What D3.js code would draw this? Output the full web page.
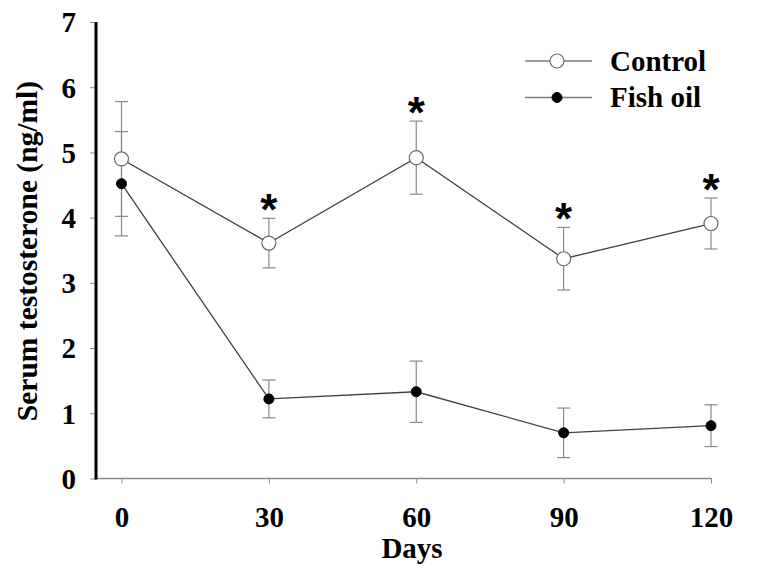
<!DOCTYPE html>
<html>
<head>
<meta charset="utf-8">
<script src="https://cdn.jsdelivr.net/npm/d3@7"></script>
<style>
  html, body { margin: 0; padding: 0; background: #fff; }
  svg { display: block; }
  text { font-family: "Liberation Serif", "Times New Roman", serif; font-weight: bold; fill: #000; }
</style>
</head>
<body>
<svg id="chart" width="771" height="575"></svg>
<script>
// ---- data ----
const days = [0, 30, 60, 90, 120];
const controlMean = [4.90, 3.61, 4.92, 3.37, 3.91];
const controlErr  = [0.88, 0.38, 0.56, 0.48, 0.39];
const fishMean    = [4.52, 1.22, 1.33, 0.70, 0.81];
const fishErr     = [0.80, 0.29, 0.47, 0.38, 0.32];
const significant = [false, true, true, true, true];
const yTicks = [0, 1, 2, 3, 4, 5, 6, 7];
const xTicks = [0, 30, 60, 90, 120];
const seriesNames = ["Control", "Fish oil"];

// ---- layout ----
const svg = d3.select("#chart");
const x = d3.scaleLinear().domain([0, 120]).range([121.5, 711]);
const y = d3.scaleLinear().domain([0, 7]).range([478.5, 22]);
const axisX0 = 96;
const grayTick = "#8a8a8a";
const lineCol = "#404040";

// y axis
const gy = svg.append("g").attr("transform", `translate(${axisX0},0)`)
  .call(d3.axisLeft(y).tickValues(yTicks).tickFormat(d3.format("d")).tickSize(6).tickSizeOuter(0).tickPadding(14));
gy.select(".domain").remove();
gy.selectAll(".tick line").attr("stroke", grayTick).attr("stroke-width", 1);
gy.selectAll(".tick text").attr("font-size", 29).attr("dy", "0.34em")
  .style("font-family", '"Liberation Serif", serif').style("font-weight", "bold").attr("fill", "#000");

// x axis
const gx = svg.append("g").attr("transform", `translate(0,${y(0)})`)
  .call(d3.axisBottom(x).tickValues(xTicks).tickSize(5).tickSizeOuter(0));
gx.select(".domain").remove();
gx.selectAll(".tick line").attr("stroke", grayTick).attr("stroke-width", 1);
gx.selectAll(".tick text").attr("font-size", 29).attr("y", 48.5).attr("dy", 0)
  .style("font-family", '"Liberation Serif", serif').style("font-weight", "bold").attr("fill", "#000");

// x axis line (from the y axis to the last tick)
svg.append("line")
  .attr("x1", axisX0 - 1).attr("x2", x(120) + 0.5)
  .attr("y1", y(0)).attr("y2", y(0))
  .attr("stroke", grayTick).attr("stroke-width", 1.3);

// y axis line (thick black)
svg.append("line")
  .attr("x1", axisX0).attr("x2", axisX0)
  .attr("y1", y(7)).attr("y2", y(0) + 1)
  .attr("stroke", "#000").attr("stroke-width", 3);

// axis titles
svg.append("text")
  .attr("transform", `translate(37,251) rotate(-90)`)
  .attr("text-anchor", "middle").attr("font-size", 29.5)
  .text("Serum testosterone (ng/ml)");
svg.append("text")
  .attr("x", 412).attr("y", 558).attr("text-anchor", "middle").attr("font-size", 29)
  .text("Days");

const series = [
  { name: seriesNames[0], mean: controlMean, err: controlErr, open: true },
  { name: seriesNames[1], mean: fishMean, err: fishErr, open: false }
];

const line = d3.line().x((d, i) => x(days[i])).y(d => y(d));
const capW = 6.5;

// error bars
series.forEach(s => {
  const g = svg.append("g");
  s.mean.forEach((m, i) => {
    const cx = x(days[i]);
    const hi = y(m + s.err[i]), lo = y(m - s.err[i]);
    g.append("line").attr("x1", cx).attr("x2", cx).attr("y1", hi).attr("y2", lo)
      .attr("stroke", grayTick).attr("stroke-width", 1.2);
    [hi, lo].forEach(yy => g.append("line")
      .attr("x1", cx - capW).attr("x2", cx + capW).attr("y1", yy).attr("y2", yy)
      .attr("stroke", grayTick).attr("stroke-width", 1.2));
  });
});

// lines
series.forEach(s => {
  svg.append("path").datum(s.mean).attr("d", line)
    .attr("fill", "none").attr("stroke", lineCol).attr("stroke-width", 1.3);
});

// markers
series.forEach(s => {
  svg.append("g").selectAll("circle").data(s.mean).join("circle")
    .attr("cx", (d, i) => x(days[i])).attr("cy", d => y(d))
    .attr("r", s.open ? 7 : 5)
    .attr("fill", s.open ? "#fff" : "#000")
    .attr("stroke", s.open ? "#6a6a6a" : "#000")
    .attr("stroke-width", s.open ? 1.2 : 1);
});

// significance stars
svg.append("g").selectAll("text").data(controlMean.map((m, i) => ({ m, i })).filter(d => significant[d.i]))
  .join("text")
  .attr("x", d => x(days[d.i]))
  .attr("y", d => y(d.m + controlErr[d.i]) - 18 + 25)
  .attr("text-anchor", "middle")
  .style("font-family", '"Liberation Sans", Arial, sans-serif')
  .attr("font-size", 44)
  .text("*");

// legend
const legend = svg.append("g");
const legY = [61, 97.5];
series.forEach((s, k) => {
  legend.append("line").attr("x1", 525).attr("x2", 592).attr("y1", legY[k]).attr("y2", legY[k])
    .attr("stroke", "#7a7a7a").attr("stroke-width", 1.3);
  legend.append("circle").attr("cx", 557).attr("cy", legY[k]).attr("r", s.open ? 7 : 5)
    .attr("fill", s.open ? "#fff" : "#000").attr("stroke", s.open ? "#6a6a6a" : "#000")
    .attr("stroke-width", s.open ? 1.2 : 1);
  legend.append("text").attr("x", 610).attr("y", legY[k] + 9.5).attr("font-size", 29).text(s.name);
});
</script>
</body>
</html>
